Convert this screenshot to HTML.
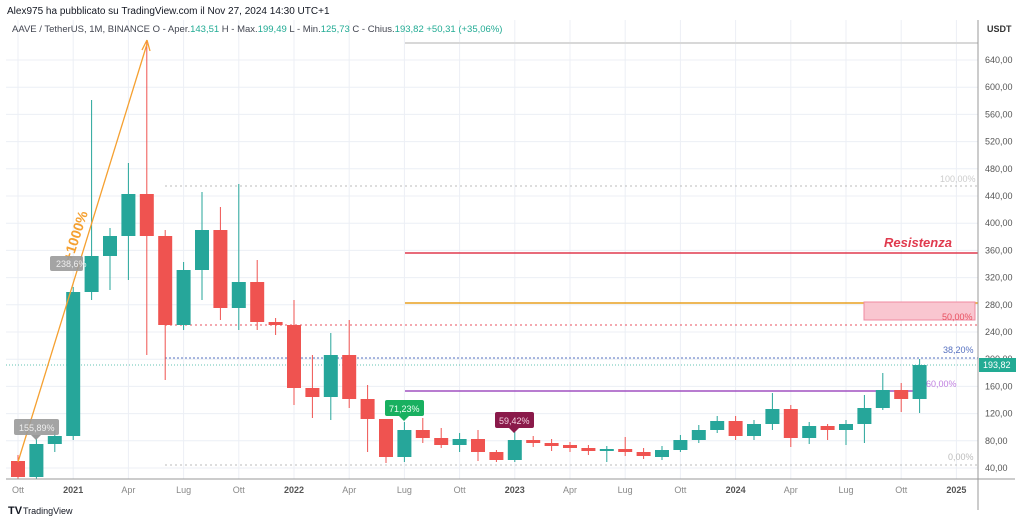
<!DOCTYPE html>
<html><head><meta charset="utf-8"><style>
html,body{margin:0;padding:0;background:#fff;}
body{width:1024px;height:521px;overflow:hidden;font-family:"Liberation Sans",sans-serif;}
svg text{font-family:"Liberation Sans",sans-serif;}
</style></head><body>
<svg id="c" width="1024" height="521" viewBox="0 0 1024 521" xmlns="http://www.w3.org/2000/svg">
<rect width="1024" height="521" fill="#fff"/>
<g id="grid" stroke="#eceff5" stroke-width="1"></g>
<text x="7" y="14" font-size="10" fill="#131722">Alex975 ha pubblicato su TradingView.com il Nov 27, 2024 14:30 UTC+1</text>
<text x="12" y="32" font-size="9.5" fill="#434651">AAVE / TetherUS, 1M, BINANCE  O - Aper.<tspan fill="#22ab94">143,51</tspan>  H - Max.<tspan fill="#22ab94">199,49</tspan>  L - Min.<tspan fill="#22ab94">125,73</tspan>  C - Chius.<tspan fill="#22ab94">193,82  +50,31 (+35,06%)</tspan></text>
<line x1="405" y1="43" x2="978" y2="43" stroke="#d8d8d8" stroke-width="2"/>
<line x1="165" y1="186" x2="978" y2="186" stroke="#bbb" stroke-dasharray="2,3"/>
<line x1="405" y1="253" x2="978" y2="253" stroke="#e03a4e" stroke-width="1.5"/>
<line x1="405" y1="303" x2="978" y2="303" stroke="#e8a020" stroke-width="1.5"/>
<rect x="864" y="302" width="111" height="18" fill="#f9c6d0" stroke="#f08aa0"/>
<line x1="165" y1="325" x2="978" y2="325" stroke="#e8505f" stroke-dasharray="2,3"/>
<line x1="165" y1="358" x2="978" y2="358" stroke="#5570c0" stroke-dasharray="2,2"/>
<line x1="6" y1="365" x2="978" y2="365" stroke="#22ab94" stroke-dasharray="1,2" opacity="0.7"/>
<line x1="405" y1="391" x2="915" y2="391" stroke="#a050c0" stroke-width="1.5"/>
<line x1="165" y1="465" x2="978" y2="465" stroke="#bbb" stroke-dasharray="2,3"/>
<text x="940" y="182" font-size="9" fill="#ccc">100,00%</text>
<text x="884" y="247" font-size="13" font-weight="bold" font-style="italic" fill="#e03a4e">Resistenza</text>
<text x="942" y="320" font-size="9" fill="#e8505f">50,00%</text>
<text x="943" y="353" font-size="9" fill="#5570c0">38,20%</text>
<text x="926" y="387" font-size="9" fill="#c080e0">60,00%</text>
<text x="948" y="460" font-size="9" fill="#bbb">0,00%</text>
<g id="candles"></g>
<line x1="18" y1="462" x2="147" y2="44" stroke="#f5a030" stroke-width="1.3"/>
<path d="M147,40 L142,50 M147,40 L150,51" stroke="#f5a030" stroke-width="1.3" fill="none"/>
<text x="0" y="0" font-size="14" font-weight="bold" fill="#f5a030" transform="translate(72,262) rotate(-72)">+1000%</text>
<rect x="50" y="256" width="33" height="15" rx="2" fill="#9a9a9a" opacity="0.9"/>
<text x="56" y="267" font-size="9" fill="#eee">238,6%</text>
<rect x="14" y="419" width="45" height="16" rx="2" fill="#9a9a9a" opacity="0.9"/>
<path d="M31,435 L36,440 L41,435Z" fill="#9a9a9a"/>
<text x="19" y="431" font-size="9" fill="#eee">155,89%</text>
<rect x="385" y="400" width="39" height="16" rx="2" fill="#18b060"/>
<path d="M399,416 L404,421 L409,416Z" fill="#18b060"/>
<text x="389" y="412" font-size="9" fill="#e8fff0">71,23%</text>
<rect x="495" y="412" width="39" height="16" rx="2" fill="#8a1a4a"/>
<path d="M509,428 L514,433 L519,428Z" fill="#8a1a4a"/>
<text x="499" y="424" font-size="9" fill="#f4d0e0">59,42%</text>
<line x1="978" y1="20" x2="978" y2="510" stroke="#999"/>
<line x1="6" y1="479" x2="1015" y2="479" stroke="#999"/>
<text x="987" y="32" font-size="9" font-weight="bold" fill="#333">USDT</text>
<g id="ylab" font-size="9" fill="#555"></g>
<rect x="979" y="358" width="37" height="14" fill="#22ab94"/>
<text x="983" y="368" font-size="9" fill="#fff">193,82</text>
<g font-size="9" fill="#777" id="xlab"></g>
<text x="8" y="514" font-size="11" font-weight="bold" fill="#131722">TV</text>
<text x="23" y="514" font-size="9" fill="#131722">TradingView</text>
</svg>
<script>
var NS="http://www.w3.org/2000/svg";
function el(p,t,a,tx){var e=document.createElementNS(NS,t);for(var k in a)e.setAttribute(k,a[k]);if(tx)e.textContent=tx;document.getElementById(p).appendChild(e);}
var Y=function(p){return 468-(p-40)*0.68;};
for(var p=40;p<=640;p+=40){var y=Y(p);el("grid","line",{x1:6,y1:y,x2:978,y2:y});el("ylab","text",{x:985,y:y+3},p+",00");}
var labs=[[0,"Ott",0],[3,"2021",1],[6,"Apr",0],[9,"Lug",0],[12,"Ott",0],[15,"2022",1],[18,"Apr",0],[21,"Lug",0],[24,"Ott",0],[27,"2023",1],[30,"Apr",0],[33,"Lug",0],[36,"Ott",0],[39,"2024",1],[42,"Apr",0],[45,"Lug",0],[48,"Ott",0],[51,"2025",1]];
labs.forEach(function(l){var x=18+l[0]*18.4;el("grid","line",{x1:x,y1:20,x2:x,y2:479});el("xlab","text",{x:x,y:493,"text-anchor":"middle","font-weight":l[2]?"bold":"normal",fill:l[2]?"#555":"#888"},l[1]);});
var d=[[461,477,455,479],[477,444,438,479],[444,436,430,452],[436,292,287,440],[292,256,100,300],[256,236,228,290],[236,194,163,280],[194,236,40,355],[236,325,230,380],[325,270,262,330],[270,230,192,300],[230,308,207,320],[308,282,184,330],[282,322,260,330],[322,325,318,335],[325,388,300,405],[388,397,355,418],[397,355,333,420],[355,399,320,408],[399,419,385,452],[419,457,447,463],[457,430,422,462],[430,438,418,443],[438,445,428,448],[445,439,433,452],[439,452,430,461],[452,460,450,462],[460,440,432,462],[440,443,436,447],[443,446,439,451],[445,448,442,452],[448,451,445,455],[451,449,446,462],[449,452,437,456],[452,456,448,459],[457,450,446,460],[450,440,435,452],[440,430,425,443],[430,421,416,433],[421,436,416,440],[436,424,420,440],[424,409,393,430],[409,438,405,447],[438,426,422,444],[426,430,424,440],[430,424,420,445],[424,408,395,443],[408,390,373,410],[390,399,383,412],[399,365,359,413]];
d.forEach(function(c,i){var x=18+i*18.4;var up=c[1]<c[0];var col=up?"#26a69a":"#ef5350";
el("candles","line",{x1:x,y1:c[2],x2:x,y2:c[3],stroke:col,"stroke-width":1});
var t=Math.min(c[0],c[1]),h=Math.max(2,Math.abs(c[0]-c[1]));
el("candles","rect",{x:x-7,y:t,width:14,height:h,fill:col});});
</script>
</body></html>
